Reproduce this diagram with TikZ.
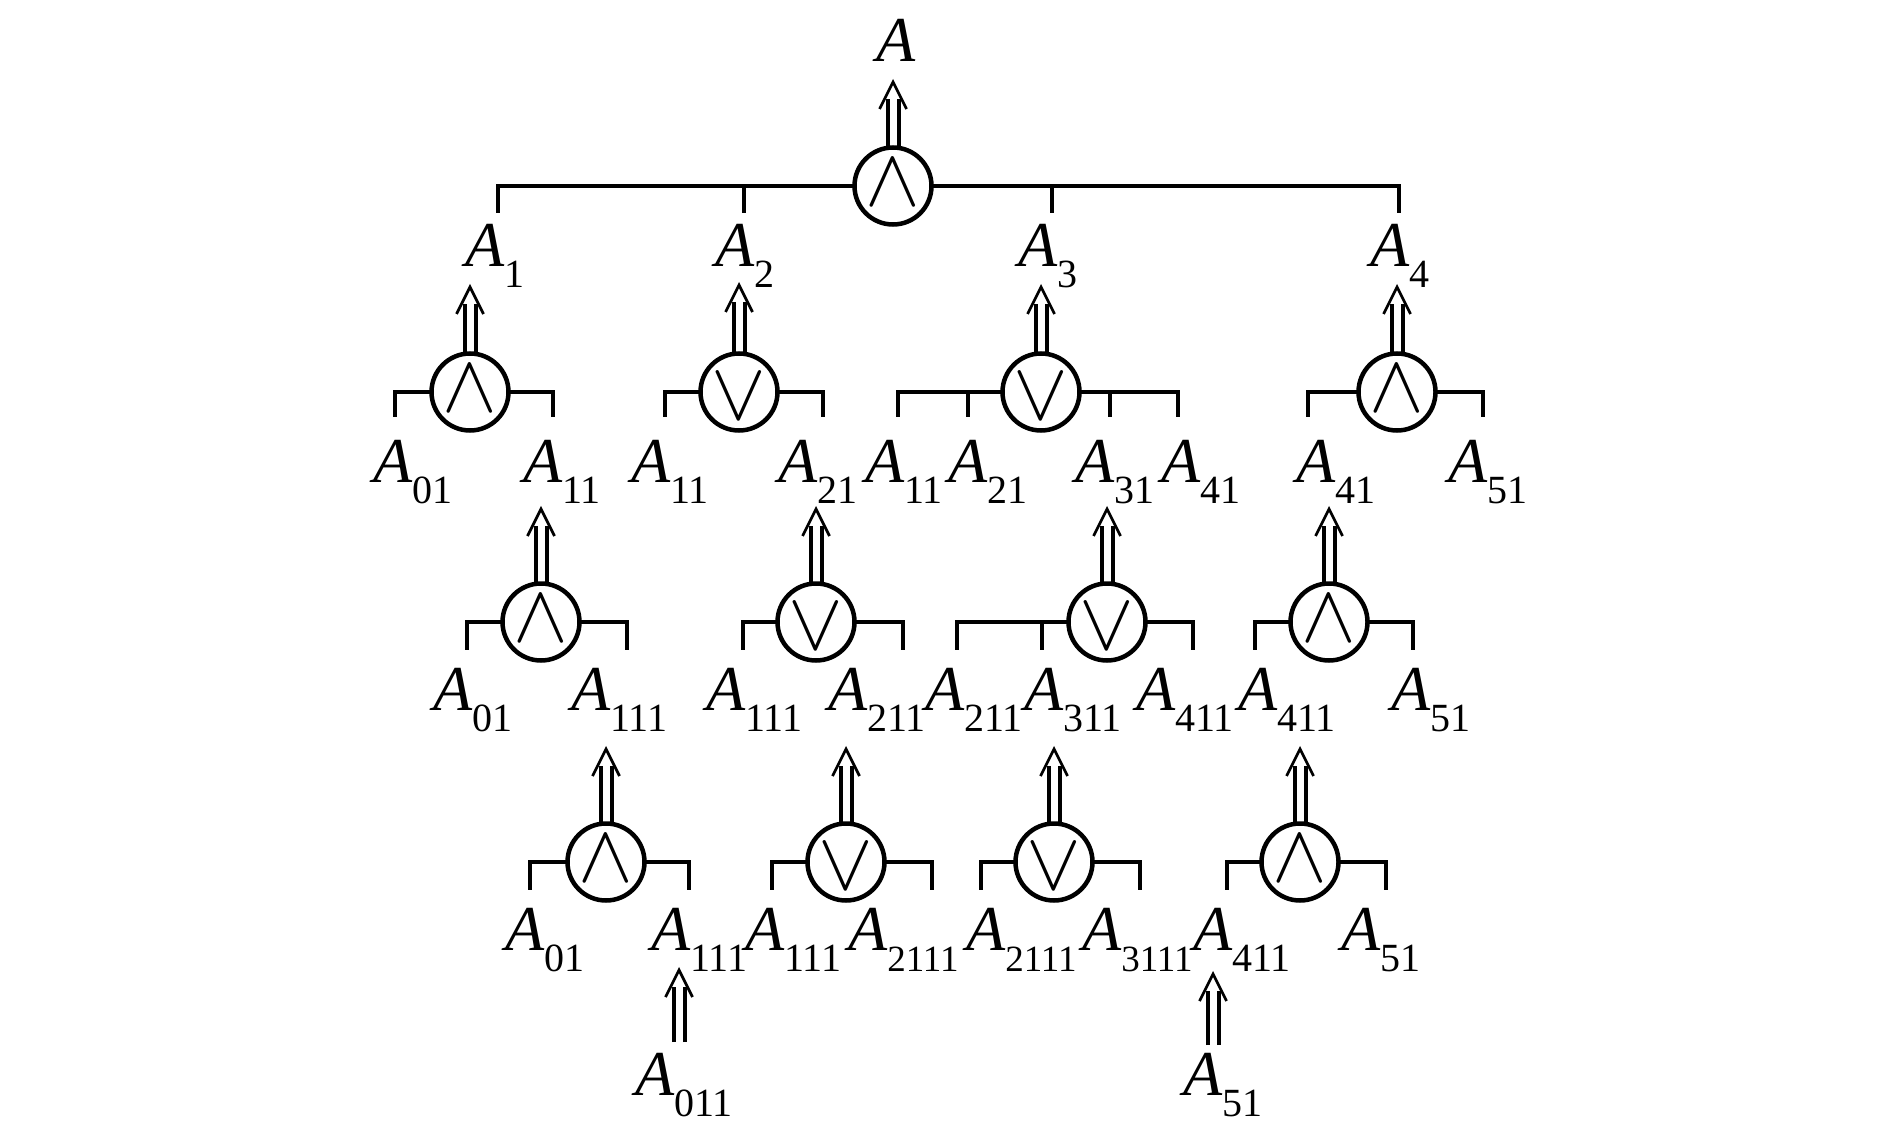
\documentclass[tikz,border=0pt]{standalone}
\usepackage{fontspec}
\setmainfont{Liberation Serif}
\usepackage{graphicx}
\usetikzlibrary{calc}
\newcommand\Alab[1]{\textit{A}\raisebox{-21pt}{\fontsize{40}{40}\selectfont #1}}
\newcommand\Alabs[1]{\textit{A}\raisebox{-21pt}{\fontsize{37}{37}\selectfont #1}}
\newcommand\dblup[2]{%
  \draw[shaftline] ($(#1)+(-5.5,0)$) -- ($(#2)+(-5.5,17)$);
  \draw[shaftline] ($(#1)+(5.5,0)$) -- ($(#2)+(5.5,17)$);
  \draw[barbline] ($(#2)+(-13.5,27)$) -- (#2) -- ($(#2)+(13.5,27)$);}
\tikzset{
  gate/.style={circle, draw, line width=4.5pt, minimum size=77pt, inner sep=0pt, outer sep=0pt},
  sym/.style={inner sep=0pt, outer sep=0pt},
  lab/.style={anchor=base west, inner sep=0pt, outer sep=0pt, font=\fontsize{64}{64}\selectfont},
  wire/.style={line width=4.5pt},
  shaftline/.style={line width=4pt},
  barbline/.style={line width=2.7pt}
}
\begin{document}
\begin{tikzpicture}[x=1pt,y=-1pt]
\useasboundingbox (0,0) rectangle (1890,1134);
% gates
\foreach \n/\x/\y in {0/893/186,1/470/392,4/1397/392,5/541/622,8/1329/622,9/606/862,12/1300/862}{
  \node[gate] (g\n) at (\x,\y) {};
  \node[sym] (s\n) at (\x,\y-3) {\scalebox{8.2}{$\wedge$}};
}
\foreach \n/\x/\y in {2/739/392,3/1041/392,6/816/622,7/1107/622,10/846/862,11/1054/862}{
  \node[gate] (g\n) at (\x,\y) {};
  \node[sym] (s\n) at (\x,\y+4.5) {\scalebox{8.2}{$\vee$}};
}
% top bus
\coordinate (b1) at (498,213);
\coordinate (b2) at (744,213);
\coordinate (b3) at (1052,213);
\coordinate (b4) at (1399,213);
\draw[wire] (g0.west) -| (b1);
\draw[wire] (g0.east) -| (b4);
\draw[wire] (b2|-g0.west) -- (b2);
\draw[wire] (b3|-g0.east) -- (b3);
% brackets
\foreach \n/\l/\r/\f in {1/395/553/417,2/665/823/417,3/898/1178/417,4/1308/1483/417,
  5/467/627/650,6/743/903/650,7/957/1193/650,8/1255/1413/650,
  9/530/689/890,10/772/932/890,11/981/1140/890,12/1227/1386/890}{
  \coordinate (fl\n) at (\l,\f);
  \coordinate (fr\n) at (\r,\f);
  \draw[wire] (g\n.west) -| (fl\n);
  \draw[wire] (g\n.east) -| (fr\n);
}
\coordinate (m3a) at (968,417);
\coordinate (m3b) at (1110,417);
\coordinate (m7a) at (1042,650);
\draw[wire] (m3a|-g3.west) -- (m3a);
\draw[wire] (m3b|-g3.east) -- (m3b);
\draw[wire] (m7a|-g7.west) -- (m7a);
% arrows
\foreach \n/\x/\y in {0/893/82,1/470/287,2/739/285,3/1041/287,4/1397/287,
  5/541/509,6/816/509,7/1107/509,8/1329/509,9/606/749,10/846/749,11/1054/749,12/1300/749}{
  \coordinate (t\n) at (\x,\y);
  \dblup{g\n.north}{t\n}
}
\coordinate (ia) at (679,1042);
\coordinate (ta) at (679,970);
\coordinate (ib) at (1213,1045);
\coordinate (tb) at (1213,974);
\dblup{ia}{ta}
\dblup{ib}{tb}
% labels
\node[lab] (L0) at (876,62) {\textit{A}};
\node[lab] (L1) at (465,266) {\Alab{1}};
\node[lab] (L2) at (715,266) {\Alab{2}};
\node[lab] (L3) at (1018,266) {\Alab{3}};
\node[lab] (L4) at (1370,266) {\Alab{4}};
\foreach \k/\x/\s in {a/373/01,b/523/11,c/631/11,d/778/21,e/865/11,f/948/21,g/1075/31,h/1161/41,i/1296/41,j/1448/51}{
  \node[lab] (R1\k) at (\x,482) {\Alab{\s}};
}
\foreach \k/\x/\s in {a/433/01,b/571/111,c/706/111,d/828/211,e/925/211,f/1024/311,g/1136/411,h/1238/411,i/1391/51}{
  \node[lab] (R2\k) at (\x,710) {\Alab{\s}};
}
\foreach \k/\x/\s in {a/505/01,b/651/111,c/745/111,g/1193/411,h/1341/51}{
  \node[lab] (R3\k) at (\x,950) {\Alab{\s}};
}
\foreach \k/\x/\s in {d/848/2111,e/966/2111,f/1082/3111}{
  \node[lab] (R3\k) at (\x,950) {\Alabs{\s}};
}
\node[lab] (R4a) at (635,1095) {\Alab{011}};
\node[lab] (R4b) at (1183,1095) {\Alab{51}};
\end{tikzpicture}
\end{document}
